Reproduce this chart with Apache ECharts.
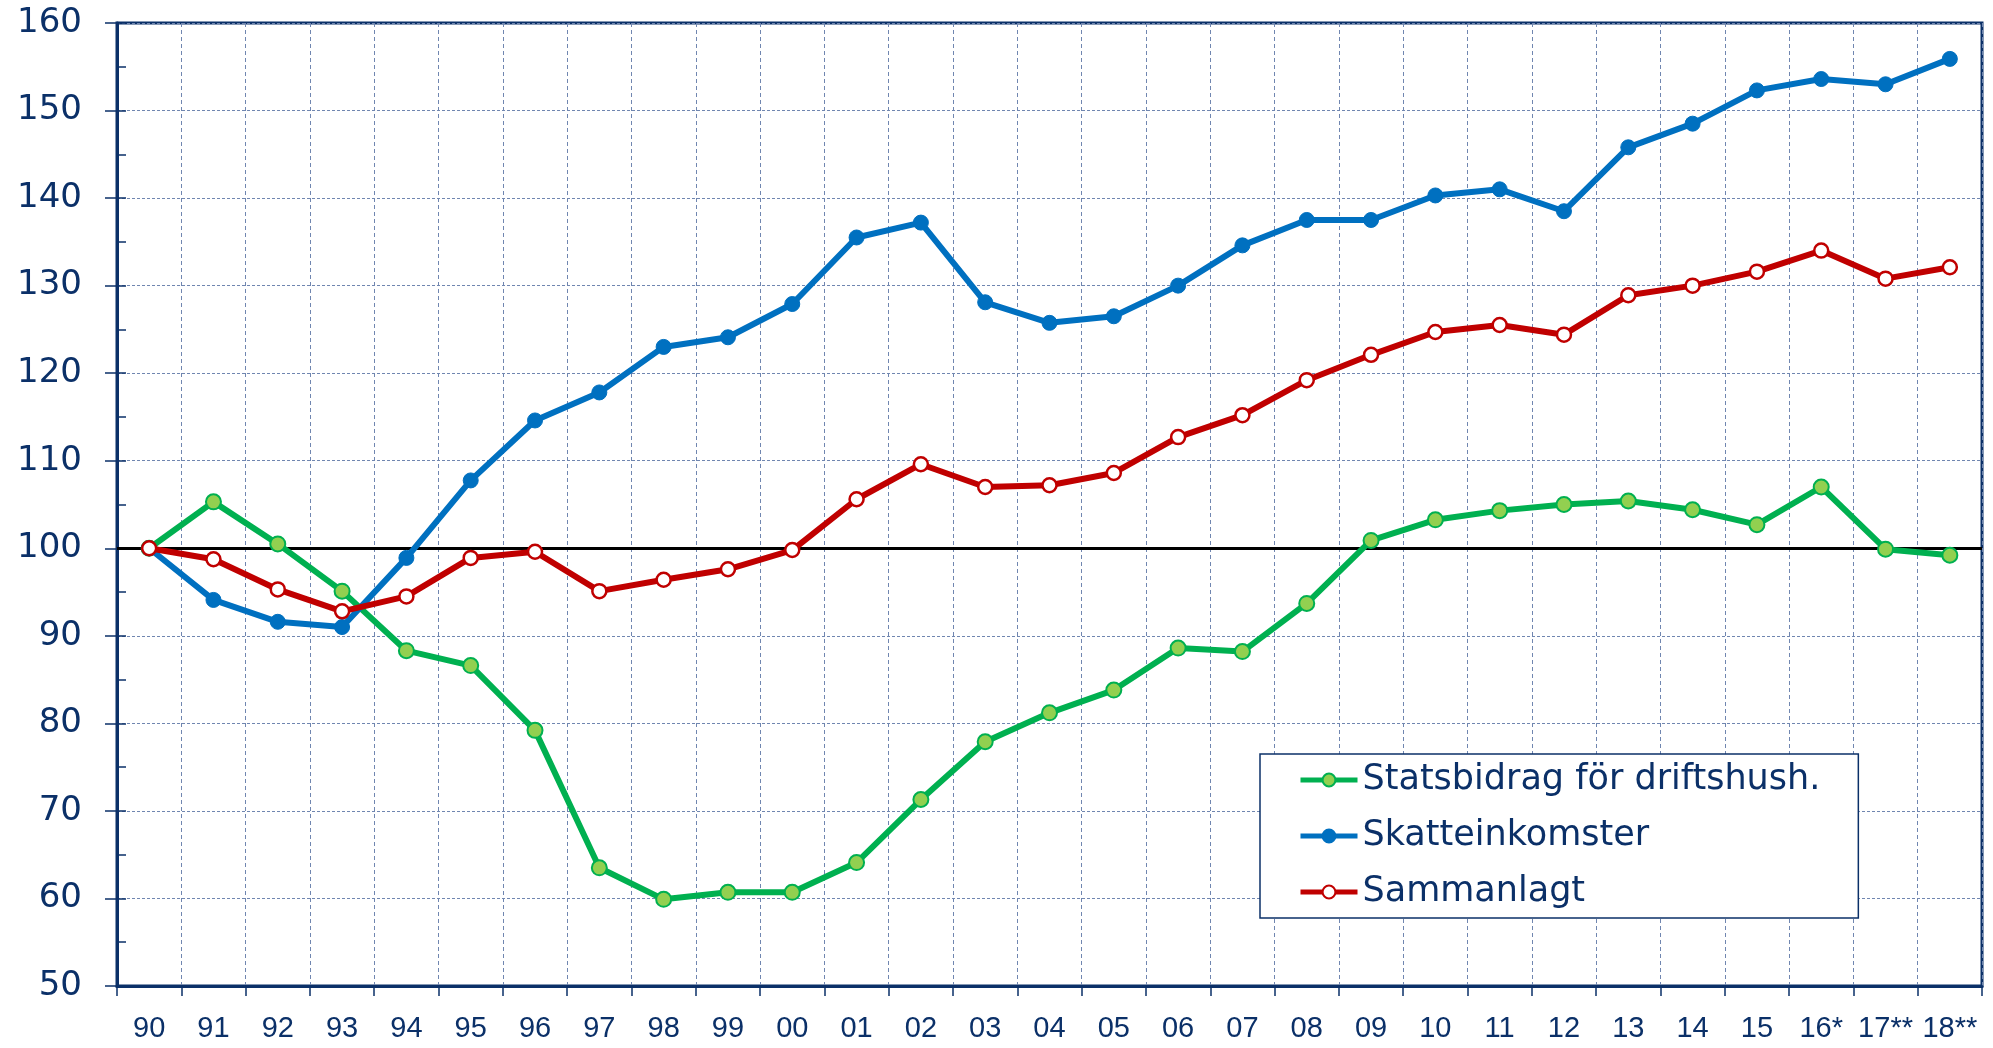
<!DOCTYPE html>
<html><head><meta charset="utf-8">
<script src="https://cdn.jsdelivr.net/npm/echarts@6/dist/echarts.min.js"></script>
<style>html,body{margin:0;padding:0;background:#fff}#c{width:1993px;height:1048px}</style>
</head><body><div id="c"></div>
<script>
const categories = ['90','91','92','93','94','95','96','97','98','99','00','01','02','03','04','05','06','07','08','09','10','11','12','13','14','15','16*','17**','18**'];
const seriesNames = ['Statsbidrag för driftshush.', 'Skatteinkomster', 'Sammanlagt'];
const statsbidrag = [100,105.3,100.5,95.1,88.3,86.6,79.2,63.5,59.9,60.7,60.7,64.1,71.3,77.9,81.2,83.8,88.6,88.2,93.7,100.9,103.25,104.3,105.0,105.4,104.4,102.7,107.0,99.9,99.2];
const skatteinkomster = [100,94.1,91.6,91.0,98.9,107.75,114.6,117.8,123.0,124.1,127.9,135.5,137.2,128.1,125.75,126.5,130.0,134.6,137.5,137.5,140.3,141.0,138.5,145.8,148.5,152.3,153.6,153.0,155.9];
const sammanlagt = [100,98.75,95.3,92.8,94.5,98.9,99.6,95.1,96.4,97.6,99.8,105.6,109.6,107.0,107.2,108.6,112.7,115.2,119.2,122.1,124.7,125.5,124.4,128.9,130.0,131.6,134.0,130.8,132.1];
const yMin = 50, yMax = 160, yStep = 10, yMinorStep = 5;
const referenceValue = 100;

const navy = '#0b3068';
const gridColor = '#7086b0';
const chart = echarts.init(document.getElementById('c'));
const gridPos = {left: 117, right: 11, top: 23, bottom: 62};
chart.setOption({
  backgroundColor: '#fff',
  animation: false,
  grid: [
    Object.assign({show: true, borderColor: navy, borderWidth: 3, backgroundColor: 'transparent'}, gridPos),
    Object.assign({show: false}, gridPos)
  ],
  legend: {
    orient: 'vertical', left: 1260, top: 754,
    padding: [8.5, 38, 8.5, 38], itemGap: 21, itemWidth: 57, itemHeight: 16,
    borderColor: navy, borderWidth: 1.5, backgroundColor: '#fff',
    lineStyle: {width: 5},
    textStyle: {fontFamily: 'DejaVu Sans', fontSize: 35, color: navy, lineHeight: 35},
    data: seriesNames
  },
  xAxis: [{
    type: 'category', data: categories, boundaryGap: true, gridIndex: 0,
    axisLine: {lineStyle: {color: navy, width: 3}},
    axisTick: {show: true, interval: 0, length: 10, lineStyle: {color: navy, width: 1.5}},
    axisLabel: {interval: 0, margin: 28, fontFamily: '"Liberation Sans", Arial, sans-serif', fontSize: 29, color: navy},
    splitLine: {show: true, interval: 0, lineStyle: {color: gridColor, width: 1, type: [4, 3]}}
  }, {
    type: 'category', data: categories, gridIndex: 1, show: false
  }],
  yAxis: [{
    type: 'value', min: yMin, max: yMax, interval: yStep, gridIndex: 0,
    axisLine: {show: true, lineStyle: {color: navy, width: 3}},
    axisTick: {show: true, length: 12, lineStyle: {color: navy, width: 1.5}},
    axisLabel: {margin: 35, fontFamily: 'DejaVu Sans', fontSize: 34, color: navy},
    splitLine: {show: true, lineStyle: {color: gridColor, width: 1, type: [3, 2]}}
  }, {
    type: 'value', min: yMin, max: yMax, interval: yMinorStep, gridIndex: 1,
    axisLine: {show: false},
    axisTick: {show: true, inside: true, length: 9, lineStyle: {color: navy, width: 1.5}},
    axisLabel: {show: false},
    splitLine: {show: false}
  }],
  series: [{
    name: seriesNames[0], type: 'line', data: statsbidrag,
    symbol: 'circle', symbolSize: 15,
    lineStyle: {color: '#00b050', width: 6},
    itemStyle: {color: '#92d050', borderColor: '#00b050', borderWidth: 2},
    z: 3
  }, {
    name: seriesNames[1], type: 'line', data: skatteinkomster,
    symbol: 'circle', symbolSize: 15,
    lineStyle: {color: '#0070c0', width: 6},
    itemStyle: {color: '#0070c0', borderColor: '#0070c0', borderWidth: 1},
    z: 4
  }, {
    name: seriesNames[2], type: 'line', data: sammanlagt,
    symbol: 'circle', symbolSize: 14,
    lineStyle: {color: '#c00000', width: 6},
    itemStyle: {color: '#ffffff', borderColor: '#c00000', borderWidth: 2.5},
    z: 5,
    markLine: {
      silent: true, symbol: 'none', label: {show: false}, z: 2,
      lineStyle: {color: '#000', width: 3, type: 'solid'},
      data: [{yAxis: referenceValue}]
    }
  }]
});
</script></body></html>
